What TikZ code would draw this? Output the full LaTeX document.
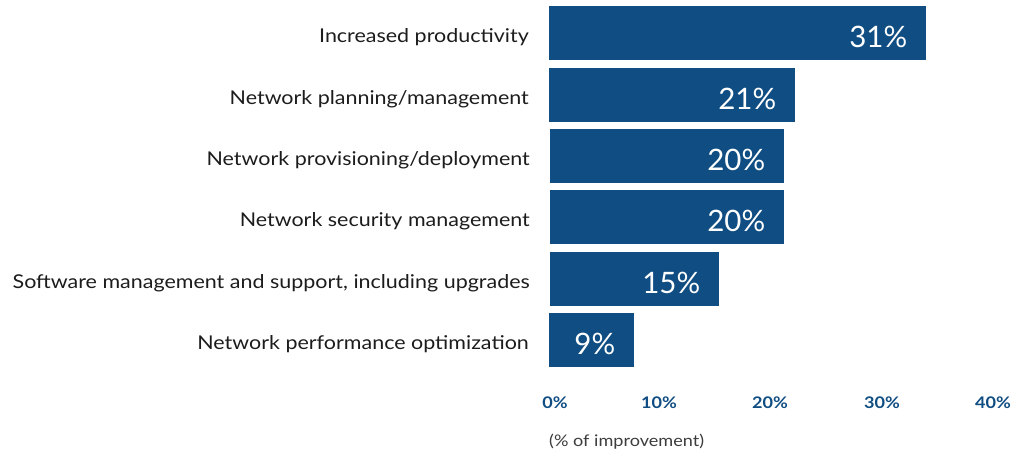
\documentclass[tikz,border=0pt]{standalone}
\usepackage{fontspec}
\setmainfont{Lato}[FakeStretch=1.13]
\newfontfamily\valuefont{Lato}
\usepackage{xcolor}
\usepackage{tikz}
\usetikzlibrary{positioning}
\definecolor{barblue}{RGB}{15, 77, 130}
\definecolor{textdark}{RGB}{28, 28, 28}
\definecolor{notegray}{RGB}{60, 60, 60}

\tikzset{
    barbox/.style={fill=barblue, inner sep=0pt, anchor=north west, minimum height=54pt},
    valuetext/.style={anchor=base east, inner sep=0pt, text=white, font=\valuefont\fontsize{29.5}{30}\selectfont, xshift=-19pt, yshift=-14pt},
    cattext/.style={anchor=base east, inner sep=0pt, text=textdark, font=\fontsize{19}{20}\selectfont, xshift=-20pt, yshift=-9pt},
    ticktext/.style={anchor=base, inner sep=0pt, text=barblue, font=\fontsize{16}{16}\selectfont\bfseries}
}

\begin{document}
\begin{tikzpicture}[x=1pt, y=-1pt]
    \useasboundingbox (0,0) rectangle (1017,454);

    % bars
    \node[barbox, minimum width=377pt] (barprod) at (549,6) {};
    \node[barbox, minimum width=246pt] (barplan) at (549,68) {};
    \node[barbox, minimum width=234pt] (barprov) at (550,129) {};
    \node[barbox, minimum width=234pt] (barsec) at (550,190) {};
    \node[barbox, minimum width=169pt] (barsoft) at (550,252) {};
    \node[barbox, minimum width=85pt] (barperf) at (549,313) {};

    % values
    \node[valuetext] (valprod) at (barprod.east) {31\%};
    \node[valuetext] (valplan) at (barplan.east) {21\%};
    \node[valuetext] (valprov) at (barprov.east) {20\%};
    \node[valuetext] (valsec) at (barsec.east) {20\%};
    \node[valuetext] (valsoft) at (barsoft.east) {15\%};
    \node[valuetext] (valperf) at (barperf.east) {9\%};

    % categories
    \node[cattext] (catprod) at (barprod.west) {Increased productivity};
    \node[cattext] (catplan) at (barplan.west) {Network planning/management};
    \node[cattext] (catprov) at (barprov.west) {Network provisioning/deployment};
    \node[cattext] (catsec) at (barsec.west) {Network security management};
    \node[cattext] (catsoft) at (barsoft.west) {Software management and support, including upgrades};
    \node[cattext] (catperf) at (barperf.west) {Network performance optimization};

    % axis
    \node[ticktext] (tick0) at (555,408) {0\%};
    \node[ticktext] (tick10) at (659,408) {10\%};
    \node[ticktext] (tick20) at (770,408) {20\%};
    \node[ticktext] (tick30) at (882,408) {30\%};
    \node[ticktext] (tick40) at (993,408) {40\%};

    \node[anchor=base west, inner sep=0pt, text=notegray, font=\fontsize{16}{16}\selectfont] (axisnote) at (549,446) {(\% of improvement)};
\end{tikzpicture}
\end{document}
